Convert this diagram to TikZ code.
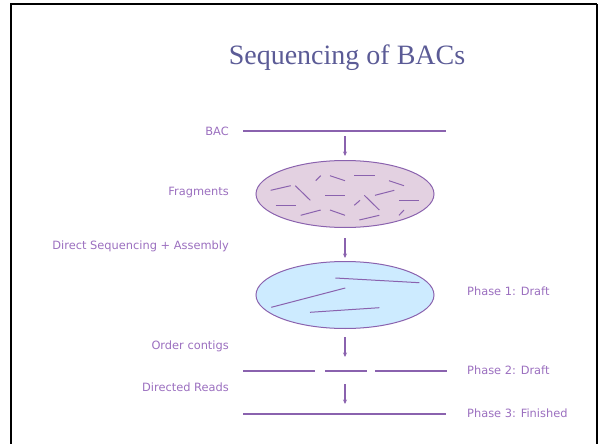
\documentclass[tikz,border=0pt]{standalone}
\usepackage{fontspec}
\setmainfont{Liberation Serif}
\newfontfamily\labelfont{DejaVu Sans}
\usetikzlibrary{arrows.meta,shapes.geometric}
\definecolor{titlec}{HTML}{5B5B96}
\definecolor{labc}{HTML}{9B6FBF}
\definecolor{linec}{HTML}{8A62AE}
\definecolor{pinkf}{HTML}{E3D1E1}
\definecolor{bluef}{HTML}{CDEBFF}
\begin{document}
\begin{tikzpicture}[x=1pt,y=-1pt,
  lab/.style={font=\labelfont\fontsize{11.4}{13}\selectfont, text=labc, inner sep=0pt},
  rl/.style={lab, anchor=east},
  ll/.style={lab, anchor=west},
  seg/.style={draw=linec, line width=1.1pt},
  arr/.style={draw=linec, line width=1.1pt, -{Stealth[length=4.5pt,width=4pt]}},
  frag/.style={draw=linec, line width=1pt},
  blob/.style={ellipse, draw=linec, line width=1pt, inner sep=0pt, minimum width=178pt, minimum height=67pt}
]
\useasboundingbox (0,0) rectangle (600,444);
% frame
\draw[line width=2.5pt] (11,445) -- (11,4) -- (597,4);
\draw[line width=1.2pt] (597,4) -- (597,445);
% title
\node[font=\fontsize{28}{32}\selectfont, text=titlec, inner sep=0pt] (title) at (347,58) {Sequencing of BACs};
% labels left
\node[rl] (lbac) at (229,131) {BAC};
\node[rl] (lfrag) at (229,193) {Fragments};
\node[rl] (ldir) at (229,246) {Direct Sequencing + Assembly};
\node[rl] (lord) at (229,346) {Order contigs};
\node[rl] (lreads) at (229,387) {Directed Reads};
% labels right
\node[ll] (p1) at (467,291) {Phase 1: Draft};
\node[ll] (p2) at (467,370) {Phase 2: Draft};
\node[ll] (p3) at (467,413) {Phase 3: Finished};
% BAC line
\coordinate (bacA) at (243,131); \coordinate (bacB) at (446,131);
\draw[seg] (bacA) -- (bacB);
% ellipses
\node[blob, fill=pinkf] (e1) at (345,194) {};
\node[blob, fill=bluef] (e2) at (345,295) {};
% arrows
\coordinate (a1s) at (345,136); \coordinate (a1e) at (345,156);
\coordinate (a2s) at (345,238); \coordinate (a2e) at (345,258);
\coordinate (a3s) at (345,337); \coordinate (a3e) at (345,357);
\coordinate (a4s) at (345,384); \coordinate (a4e) at (345,404);
\draw[arr] (a1s) -- (a1e);
\draw[arr] (a2s) -- (a2e);
\draw[arr] (a3s) -- (a3e);
\draw[arr] (a4s) -- (a4e);
% fragments
\draw[frag] (315.7,180.7) -- (320.7,175.7);
\draw[frag] (330,175.7) -- (345,180.7);
\draw[frag] (354.3,175.3) -- (374.7,175.3);
\draw[frag] (389,180.7) -- (404,185.7);
\draw[frag] (270.7,190.3) -- (290.7,185.7);
\draw[frag] (295.3,185.7) -- (310.3,200.3);
\draw[frag] (325,195.3) -- (345,195.3);
\draw[frag] (375,195.3) -- (394.3,190.3);
\draw[frag] (354.3,205.3) -- (360,200.3);
\draw[frag] (364.3,195.3) -- (379.3,210);
\draw[frag] (399,200.3) -- (419,200.3);
\draw[frag] (275.7,205.3) -- (295.7,205.3);
\draw[frag] (300.7,215.3) -- (320.7,210);
\draw[frag] (330,210) -- (345,215.3);
\draw[frag] (359.3,220) -- (379.3,215.3);
\draw[frag] (399,215.3) -- (404,210);
% contigs in ellipse 2
\draw[frag] (335.3,278) -- (419.3,282.7);
\draw[frag] (271.3,307.3) -- (345.3,288);
\draw[frag] (310,312.3) -- (379.3,307.7);
% phase 2 lines
\coordinate (c1a) at (243,371); \coordinate (c1b) at (315,371);
\coordinate (c2a) at (325,371); \coordinate (c2b) at (367,371);
\coordinate (c3a) at (375,371); \coordinate (c3b) at (447,371);
\draw[seg] (c1a) -- (c1b);
\draw[seg] (c2a) -- (c2b);
\draw[seg] (c3a) -- (c3b);
% phase 3 line
\coordinate (fa) at (243,414); \coordinate (fb) at (446,414);
\draw[seg] (fa) -- (fb);
\end{tikzpicture}
\end{document}
